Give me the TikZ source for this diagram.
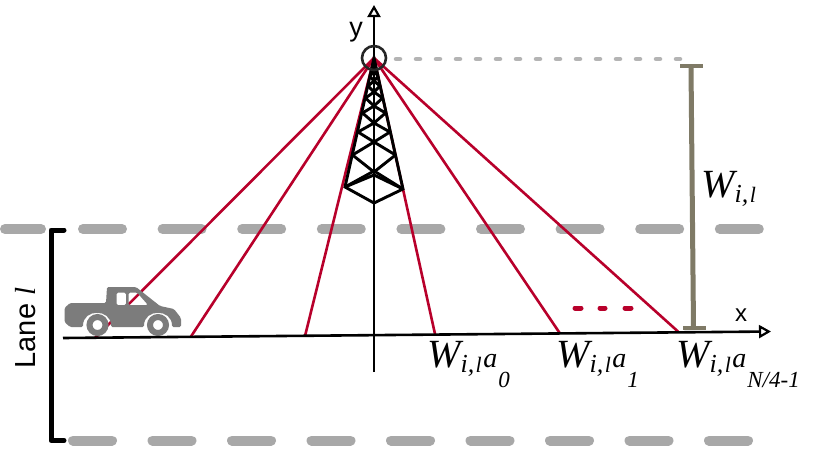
\documentclass[tikz,border=0pt]{standalone}
\usepackage{fontspec}
\setmainfont{Liberation Serif}
\newfontfamily\sansf{Liberation Sans}
\usetikzlibrary{arrows.meta}
\definecolor{rd}{HTML}{B8002B}
\definecolor{lanegray}{HTML}{A8A8A8}
\definecolor{dotgray}{HTML}{B4B4B4}
\definecolor{barc}{HTML}{7F7A66}
\definecolor{truckc}{HTML}{7C7C7C}
\newcommand{\Wsym}{\fontsize{40}{40}\selectfont\itshape W}
\newcommand{\ilsub}{\raisebox{-5pt}{\fontsize{26}{26}\selectfont\itshape i,\hspace{1.5pt}}\raisebox{-5pt}{\fontsize{22}{22}\selectfont\itshape l}}
\newcommand{\asub}[1]{\hspace{1.5pt}{\fontsize{28}{28}\selectfont\itshape a}\hspace{1pt}\raisebox{-20pt}{\fontsize{23}{23}\selectfont\itshape #1}}
\tikzset{
  lanedash/.style={draw=lanegray,line width=10pt,line cap=round},
  ray/.style={draw=rd,line width=2.6pt},
  axisline/.style={draw=black,line width=2.6pt,-{Triangle[open,length=12pt,width=13pt,line width=2.2pt]}},
  towerline/.style={draw=black,line width=2.9pt},
  lbl/.style={inner sep=0pt,anchor=base west},
}
\begin{document}
\begin{tikzpicture}[x=1pt,y=-1pt]
\useasboundingbox (0,0) rectangle (830,453);
\fill[white] (0,0) rectangle (830,453);
% lane markings
\draw[lanedash] (5,229) -- (41,229);
\foreach \i in {0,...,8}{
  \draw[lanedash] ({83+79.6*\i},229) -- ({122+79.6*\i},229);
}
\foreach \i in {0,...,8}{
  \draw[lanedash] ({73+79.5*\i},440.5) -- ({112+79.5*\i},440.5);
}
% named points
\coordinate (apex) at (374,58);
\coordinate (r1) at (95,338);
\coordinate (r2) at (191,336.5);
\coordinate (r3) at (305,336);
\coordinate (r4) at (435,334);
\coordinate (r5) at (560,333.5);
\coordinate (r6) at (678,331.5);
\coordinate (xs) at (63,338);
\coordinate (xe) at (771,331.5);
\coordinate (ys) at (374,372);
\coordinate (ye) at (374,5);
% rays
\foreach \p in {r1,r2,r3,r4,r5,r6}{ \draw[ray] (apex) -- (\p); }
% tower
\coordinate (tl) at (345,187);
\coordinate (tr) at (403,189);
\coordinate (tb) at (374,203);
\coordinate (tc) at (374,171);
\begin{scope}[towerline]
 \draw (apex) -- (tl) -- (tb) -- (tr) -- cycle;
 \draw (tl) -- (tc) -- (tr);
 \draw (tl) -- (374,175) -- (tr);
 \foreach \a/\b/\c/\d in {
   155/172/352.5/395.5,
   132/142/358/390,
   113/123/362.5/385.5,
   98/106/365.5/382.5,
   86/92/368/380,
   76/81/369.5/378.5,
   68/72/371/377}{
   \draw (\c,\a) -- (374,\b) -- (\d,\a);
 }
 \foreach \a/\b/\c/\d in {
   155/142/352.5/395.5,
   132/123/358/390,
   113/106/362.5/385.5,
   98/92/365.5/382.5,
   86/81/368/380,
   76/72/369.5/378.5}{
   \draw (\c,\a) -- (374,\b) -- (\d,\a);
 }
\end{scope}
% truck
\fill[truckc,even odd rule,rounded corners=1.5pt]
  (70,303) -- (106,303) -- (107,287) -- (136,287) -- (160,306) -- (174,309) -- (181,318) -- (181,327)
  -- (172,327) .. controls (172,308.5) and (144,308.5) .. (144,327)
  -- (111,327) .. controls (111,308.5) and (83,308.5) .. (83,327)
  -- (70,327) -- (64.5,322) -- (64.5,308) -- cycle
  (116.5,292.5) -- (126,292.5) -- (126,305) -- (116.5,305) -- cycle
  (128.5,292.5) -- (137,292.5) -- (148,305) -- (128.5,305) -- cycle;
\foreach \cx in {97.5,158}{
  \draw[truckc,line width=6pt] (\cx,325) circle[radius=8pt];
}
% axes
\draw[axisline] (xs) -- (xe);
\draw[axisline] (ys) -- (ye);
\draw[draw=black!85,line width=2.6pt] (apex) circle[radius=12pt];
% height marker
\draw[draw=dotgray,line width=4.5pt,line cap=round,dash pattern=on 4pt off 16pt] (396,59) -- (680,59);
\coordinate (bt) at (691,66);
\coordinate (bb) at (693.5,328);
\draw[draw=barc,line width=5pt] (bt) -- (bb);
\draw[draw=barc,line width=4.5pt] (680,66) -- (703,66);
\draw[draw=barc,line width=4.5pt] (683,328) -- (706,328);
% dots
\draw[draw=rd,line width=5pt,line cap=round] (575,308) -- (581,308) (600,308) -- (605,308) (625,308) -- (631,308);
% bracket
\draw[draw=black,line width=5pt,line cap=round,line join=round] (64,230) -- (51,230) -- (51,440.5) -- (64,440.5);
% labels
\node[lbl] (wil) at (701,197) {\Wsym\ilsub};
\node[lbl] (w0) at (427,367) {\Wsym\ilsub\asub{0}};
\node[lbl] (w1) at (556,367) {\Wsym\ilsub\asub{1}};
\node[lbl] (wn) at (676,367) {\Wsym\ilsub\asub{N/4-1}};
\node[inner sep=0pt,anchor=base] (ylab) at (356,36) {\sansf\fontsize{27}{27}\selectfont y};
\node[inner sep=0pt,anchor=base] (xlab) at (741,321) {\sansf\fontsize{24}{24}\selectfont x};
\node[inner sep=0pt,rotate=90,anchor=base] (lane) at (35,328) {\sansf\fontsize{29}{29}\selectfont Lane \rmfamily\itshape l};
\end{tikzpicture}
\end{document}
